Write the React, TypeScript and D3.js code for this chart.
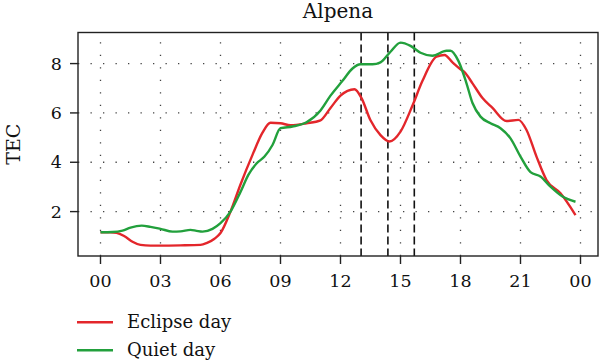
import React from "react";
import * as d3 from "d3";

const eclipseHours = [
  0, 0.5, 0.8, 1.2, 1.6, 2.0, 2.5, 3, 4, 5, 5.3, 5.7, 6.0, 6.5, 7.0, 7.6, 8.1,
  8.5, 9.0, 9.5, 10.3, 11.0, 11.5, 12.0, 12.7, 13.05, 13.5, 14.0, 14.45, 15.0,
  15.6, 16.1, 16.8, 17.2, 17.6, 18.0, 18.2, 18.6, 19.1, 19.6, 20.3, 20.9, 21.3,
  21.8, 22.3, 23.0, 23.75,
];
const eclipseTec = [
  1.16, 1.16, 1.14, 1.0, 0.78, 0.65, 0.62, 0.62, 0.63, 0.65, 0.72, 0.9, 1.13,
  2.0, 3.1, 4.3, 5.2, 5.6, 5.58, 5.5, 5.58, 5.7, 6.2, 6.7, 6.96, 6.6, 5.7, 5.1,
  4.84, 5.24, 6.3, 7.3, 8.28, 8.35, 8.05, 7.77, 7.65, 7.2, 6.6, 6.2, 5.67, 5.72,
  5.31, 4.23, 3.28, 2.74, 1.86,
];

const quietHours = [
  0, 0.6, 1.1, 1.5, 2.06, 2.5, 3.0, 3.6, 4.0, 4.5, 4.8, 5.1, 5.6, 6.0, 6.5, 7.0,
  7.4, 7.8, 8.2, 8.6, 9.0, 9.6, 10.3, 11.0, 11.5, 12.1, 12.6, 13.0, 13.6, 14.0,
  14.5, 15.0, 15.5, 16.0, 16.6, 17.3, 17.5, 17.9, 18.3, 18.6, 19.0, 19.5, 20.0,
  20.5, 21.0, 21.5, 22.0, 22.5, 23.1, 23.75,
];
const quietTec = [
  1.16, 1.17, 1.23, 1.35, 1.43, 1.38, 1.3, 1.19, 1.2, 1.26, 1.22, 1.19, 1.3,
  1.53, 2.0, 2.8, 3.5, 3.95, 4.23, 4.7, 5.38, 5.45, 5.62, 6.1, 6.7, 7.3, 7.8,
  7.97, 7.97, 8.05, 8.48, 8.85, 8.72, 8.44, 8.32, 8.52, 8.52, 8.1, 7.2, 6.4,
  5.85, 5.58, 5.38, 4.97, 4.23, 3.6, 3.42, 3.01, 2.61, 2.4,
];

const xTicks = [0, 3, 6, 9, 12, 15, 18, 21, 24];
const xTickLabels = ["00", "03", "06", "09", "12", "15", "18", "21", "00"];
const yTicks = [2, 4, 6, 8];
// eclipse start, maximum, end (UT hours)
const eclipseMarks = [13.03, 14.37, 15.69];

const series = [
  { name: "Eclipse day", color: "#e3262b", hours: eclipseHours, tec: eclipseTec },
  { name: "Quiet day", color: "#22a03c", hours: quietHours, tec: quietTec },
];

const FONT = "'DejaVu Serif', serif";

export default function App() {
  const left = 78,
    right = 598,
    top = 32.5,
    bottom = 256;

  const x = d3.scaleLinear().domain([-1.125, 24.875]).range([left, right]);
  const y = d3.scaleLinear().domain([0.2, 9.26]).range([bottom, top]);

  const line = d3
    .line<[number, number]>()
    .x((d) => x(d[0]))
    .y((d) => y(d[1]))
    .curve(d3.curveMonotoneX);

  return (
    <svg
      width={600}
      height={364}
      style={{ position: "absolute", left: 0, top: 0, background: "#fff" }}
    >
      <text
        x={(left + right) / 2}
        y={18}
        textAnchor="middle"
        fontFamily={FONT}
        fontSize={20}
        fill="#111"
      >
        Alpena
      </text>

      {/* grid */}
      <g stroke="#444" strokeWidth={1.3} strokeDasharray="1.3 11.2">
        {xTicks.map((t) => (
          <line key={"gx" + t} x1={x(t)} x2={x(t)} y1={bottom} y2={top} />
        ))}
        {yTicks.map((t) => (
          <line key={"gy" + t} x1={left} x2={right} y1={y(t)} y2={y(t)} />
        ))}
      </g>

      {/* eclipse phases */}
      <g stroke="#111" strokeWidth={1.6} strokeDasharray="8 4">
        {eclipseMarks.map((t) => (
          <line key={"e" + t} x1={x(t)} x2={x(t)} y1={top} y2={bottom} />
        ))}
      </g>

      {series.map((s) => (
        <path
          key={s.name}
          d={line(s.hours.map((h, i) => [h, s.tec[i]] as [number, number])) ?? ""}
          fill="none"
          stroke={s.color}
          strokeWidth={2.4}
        />
      ))}

      <rect
        x={left}
        y={top}
        width={right - left}
        height={bottom - top}
        fill="none"
        stroke="#222"
        strokeWidth={1.4}
      />

      {/* x axis */}
      <g fontFamily={FONT} fontSize={17.5} fill="#111">
        {xTicks.map((t, i) => (
          <g key={"xt" + t}>
            <line x1={x(t)} x2={x(t)} y1={bottom} y2={bottom + 8} stroke="#222" strokeWidth={1.4} />
            <text x={x(t)} y={287} textAnchor="middle">
              {xTickLabels[i]}
            </text>
          </g>
        ))}
        {yTicks.map((t) => (
          <g key={"yt" + t}>
            <line x1={left - 8} x2={left} y1={y(t)} y2={y(t)} stroke="#222" strokeWidth={1.4} />
            <text x={62} y={y(t) + 6.2} textAnchor="end">
              {t}
            </text>
          </g>
        ))}
      </g>

      <text
        transform={`translate(20,${(top + bottom) / 2}) rotate(-90)`}
        textAnchor="middle"
        fontFamily={FONT}
        fontSize={19}
        fill="#111"
      >
        TEC
      </text>

      {/* legend */}
      {series.map((s, i) => (
        <g key={"lg" + s.name} transform={`translate(0,${i * 28})`}>
          <line x1={77} x2={113} y1={322.3} y2={322.3} stroke={s.color} strokeWidth={2.4} />
          <text x={127} y={327.5} fontFamily={FONT} fontSize={18} fill="#111">
            {s.name}
          </text>
        </g>
      ))}
    </svg>
  );
}
